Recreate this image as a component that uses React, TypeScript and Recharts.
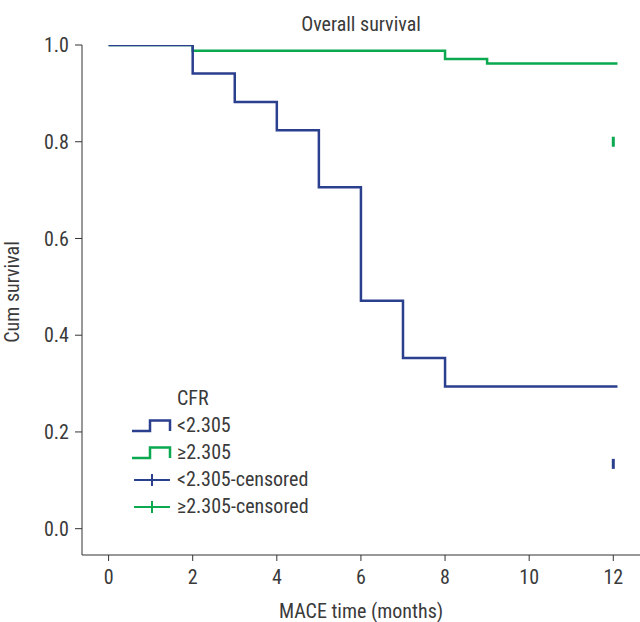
import { ComposedChart, Line, Scatter, XAxis, YAxis, Legend } from "recharts";

const FONT = "'Liberation Sans Narrow', 'Roboto Condensed', 'DejaVu Sans Condensed', sans-serif";
const TEXT = "#3a3a3a";
const BLUE = "#2b3f8f";
const GREEN = "#0aa84f";

// time in months, cumulative survival
const lowTimes = [0, 2, 3, 4, 5, 6, 7, 8, 12.1];
const lowSurv = [1.0, 0.941, 0.882, 0.824, 0.706, 0.471, 0.353, 0.294, 0.294];
const highTimes = [0, 2, 8, 9, 12.1];
const highSurv = [1.0, 0.988, 0.971, 0.962, 0.962];
const lowCensored = [{ t: 12, s: 0.134 }];
const highCensored = [{ t: 12, s: 0.8 }];

const xTicks = [0, 2, 4, 6, 8, 10, 12];
const yTicks = [0, 0.2, 0.4, 0.6, 0.8, 1.0];

const lowData = lowTimes.map((t, i) => ({ t, s: lowSurv[i] }));
const highData = highTimes.map((t, i) => ({ t, s: highSurv[i] }));

const CensorMark = (color: string) => (props: any) => (
  <rect x={props.cx - 1.5} y={props.cy - 5} width={3} height={10} fill={color} />
);

const StepIcon = ({ color }: { color: string }) => (
  <svg width={42} height={14} style={{ display: "block" }}>
    <polyline points="2,12 20,12 20,1.5 40,1.5 40,12" fill="none" stroke={color} strokeWidth={2.5} />
  </svg>
);

const CensorIcon = ({ color }: { color: string }) => (
  <svg width={42} height={14} style={{ display: "block" }}>
    <line x1={4} y1={7} x2={40} y2={7} stroke={color} strokeWidth={2} />
    <line x1={22} y1={1} x2={22} y2={13} stroke={color} strokeWidth={2} />
  </svg>
);

const legendRows = [
  { label: "<2.305", icon: <StepIcon color={BLUE} /> },
  { label: "≥2.305", icon: <StepIcon color={GREEN} /> },
  { label: "<2.305-censored", icon: <CensorIcon color={BLUE} /> },
  { label: "≥2.305-censored", icon: <CensorIcon color={GREEN} /> },
];

const renderLegend = () => (
  <div style={{ fontFamily: FONT, fontSize: 20, color: TEXT }}>
    <div style={{ height: 27, lineHeight: "27px", paddingLeft: 47 }}>CFR</div>
    {legendRows.map(r => (
      <div key={r.label} style={{ height: 27, display: "flex", alignItems: "center" }}>
        {r.icon}
        <span style={{ marginLeft: 5, lineHeight: "27px" }}>{r.label}</span>
      </div>
    ))}
  </div>
);

const YTitle = (props: any) => {
  const vb = props.viewBox || { y: 45, height: 510 };
  const cy = vb.y + vb.height / 2 - 8;
  return (
    <text x={12} y={cy} transform={`rotate(-90 12 ${cy})`} textAnchor="middle" dominantBaseline="central"
      fill={TEXT} fontSize={20} fontFamily={FONT}>Cum survival</text>
  );
};

export default function App() {
  return (
    <div style={{ position: "absolute", left: 0, top: 0, width: 640, height: 622, background: "#fff" }}>
      <div style={{ position: "absolute", left: 82, width: 558, top: 11, textAlign: "center",
        fontFamily: FONT, fontSize: 20, color: TEXT, lineHeight: "26px" }}>Overall survival</div>
      <ComposedChart width={640} height={622} margin={{ top: 45, right: 0, bottom: 0, left: 0 }}>
        <XAxis type="number" dataKey="t" domain={[-0.632, 12.635]} ticks={xTicks} allowDataOverflow
          height={67} tickSize={6} tickMargin={9} stroke="#333" axisLine={{ stroke: "#333" }}
          tick={{ fill: TEXT, fontSize: 20, fontFamily: FONT }}
          label={{ value: "MACE time (months)", position: "insideBottom", offset: 4, fill: TEXT, fontSize: 20, fontFamily: FONT }} />
        <YAxis type="number" domain={[-0.0544, 1.0]} ticks={yTicks} allowDataOverflow width={82}
          tickSize={7} tickMargin={6} stroke="#333" tickFormatter={(v: number) => v.toFixed(1)}
          tick={{ fill: TEXT, fontSize: 20, fontFamily: FONT }}
          label={{ content: YTitle }} />
        <Line data={highData} dataKey="s" type="stepAfter" stroke={GREEN} strokeWidth={2.5} dot={false} activeDot={false} isAnimationActive={false} legendType="none" />
        <Line data={lowData} dataKey="s" type="stepAfter" stroke={BLUE} strokeWidth={2.5} dot={false} activeDot={false} isAnimationActive={false} legendType="none" />
        <Scatter data={highCensored} dataKey="s" shape={CensorMark(GREEN)} isAnimationActive={false} legendType="none" />
        <Scatter data={lowCensored} dataKey="s" shape={CensorMark(BLUE)} isAnimationActive={false} legendType="none" />
        <Legend layout="vertical" align="center" verticalAlign="middle" content={renderLegend}
          wrapperStyle={{ left: 130, top: 385, width: 220 }} />
      </ComposedChart>
    </div>
  );
}
